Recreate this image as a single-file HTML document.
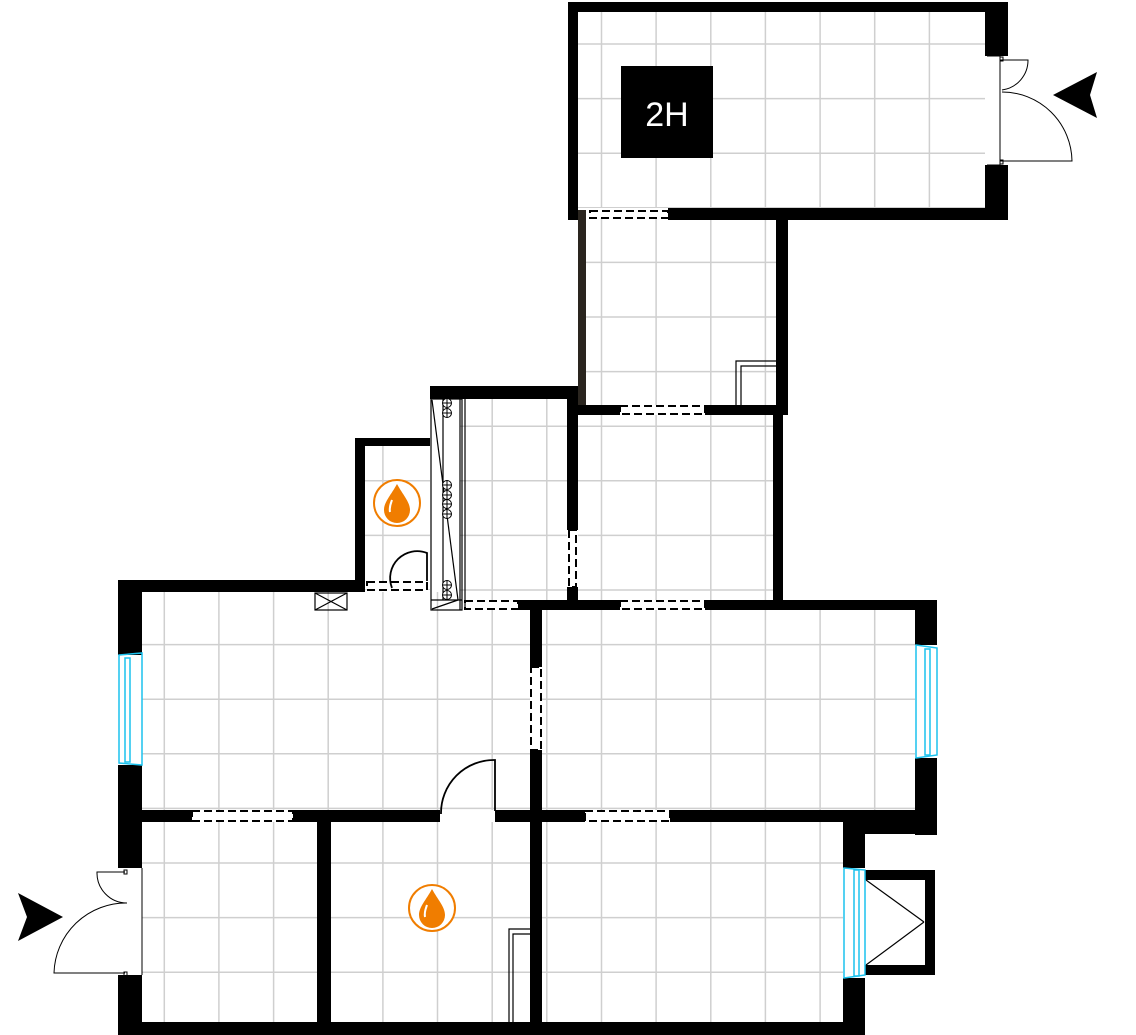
<!DOCTYPE html>
<html><head><meta charset="utf-8"><style>
html,body{margin:0;padding:0;background:#fff;}
svg{display:block;}
</style></head><body>
<svg width="1136" height="1035" viewBox="0 0 1136 1035" xmlns="http://www.w3.org/2000/svg">
<defs>
<clipPath id="rooms">
<rect x="578" y="12" width="407" height="196"/>
<rect x="586" y="218" width="190" height="187"/>
<rect x="578" y="415" width="195" height="185"/>
<rect x="460" y="398" width="107" height="202"/>
<rect x="365" y="445" width="65" height="145"/>
<rect x="142" y="592" width="388" height="218"/>
<rect x="542" y="610" width="373" height="200"/>
<rect x="142" y="822" width="175" height="200"/>
<rect x="331" y="822" width="199" height="200"/>
<rect x="542" y="822" width="301" height="200"/>
</clipPath>
<g id="pl"><circle r="4.5" fill="#fff" stroke="#000" stroke-width="1"/><line x1="-4.5" y1="0" x2="4.5" y2="0" stroke="#000" stroke-width="1"/><line x1="0" y1="-4.5" x2="0" y2="4.5" stroke="#000" stroke-width="1"/></g>
</defs>
<g clip-path="url(#rooms)" stroke="#cfcfcf" stroke-width="1.5">
<line x1="164.3" y1="0" x2="164.3" y2="1035"/><line x1="218.9" y1="0" x2="218.9" y2="1035"/><line x1="273.6" y1="0" x2="273.6" y2="1035"/><line x1="328.2" y1="0" x2="328.2" y2="1035"/><line x1="382.9" y1="0" x2="382.9" y2="1035"/><line x1="437.5" y1="0" x2="437.5" y2="1035"/><line x1="492.2" y1="0" x2="492.2" y2="1035"/><line x1="546.8" y1="0" x2="546.8" y2="1035"/><line x1="601.5" y1="0" x2="601.5" y2="1035"/><line x1="656.1" y1="0" x2="656.1" y2="1035"/><line x1="710.8" y1="0" x2="710.8" y2="1035"/><line x1="765.4" y1="0" x2="765.4" y2="1035"/><line x1="820.1" y1="0" x2="820.1" y2="1035"/><line x1="874.7" y1="0" x2="874.7" y2="1035"/><line x1="929.4" y1="0" x2="929.4" y2="1035"/>
<line x1="0" y1="44" x2="1136" y2="44"/><line x1="0" y1="98.6" x2="1136" y2="98.6"/><line x1="0" y1="153.2" x2="1136" y2="153.2"/><line x1="0" y1="207.8" x2="1136" y2="207.8"/><line x1="0" y1="262.4" x2="1136" y2="262.4"/><line x1="0" y1="317" x2="1136" y2="317"/><line x1="0" y1="371.6" x2="1136" y2="371.6"/><line x1="0" y1="426.2" x2="1136" y2="426.2"/><line x1="0" y1="480.8" x2="1136" y2="480.8"/><line x1="0" y1="535.4" x2="1136" y2="535.4"/><line x1="0" y1="590" x2="1136" y2="590"/><line x1="0" y1="644.6" x2="1136" y2="644.6"/><line x1="0" y1="699.2" x2="1136" y2="699.2"/><line x1="0" y1="753.8" x2="1136" y2="753.8"/><line x1="0" y1="808.4" x2="1136" y2="808.4"/><line x1="0" y1="863" x2="1136" y2="863"/><line x1="0" y1="917.6" x2="1136" y2="917.6"/><line x1="0" y1="972.2" x2="1136" y2="972.2"/>
</g>
<g fill="#000">
<rect x="568" y="2" width="440" height="10"/>
<rect x="568" y="2" width="10" height="218"/>
<rect x="985" y="2" width="23" height="54"/>
<rect x="985" y="165" width="23" height="53"/>
<rect x="668" y="208" width="340" height="12"/>
<rect x="578" y="210" width="8" height="195" fill="#2a251f"/>
<rect x="776" y="218" width="12" height="197"/>
<rect x="568" y="405" width="52" height="10"/>
<rect x="705" y="405" width="83" height="10"/>
<rect x="567" y="386" width="11" height="144"/>
<rect x="567" y="587" width="11" height="23"/>
<rect x="773" y="415" width="10" height="195"/>
<rect x="518" y="600" width="102" height="10"/>
<rect x="705" y="600" width="232" height="10"/>
<rect x="430" y="386" width="148" height="13"/>
<rect x="355" y="438" width="10" height="154"/>
<rect x="355" y="438" width="75" height="8"/>
<rect x="118" y="580" width="247" height="12"/>
<rect x="118" y="580" width="24" height="75"/>
<rect x="118" y="765" width="24" height="103"/>
<rect x="118" y="810" width="74" height="12"/>
<rect x="293" y="810" width="147" height="12"/>
<rect x="495" y="810" width="47" height="12"/>
<rect x="530" y="600" width="12" height="67"/>
<rect x="530" y="750" width="12" height="280"/>
<rect x="915" y="600" width="22" height="45"/>
<rect x="915" y="758" width="22" height="77"/>
<rect x="542" y="810" width="43" height="12"/>
<rect x="670" y="810" width="267" height="12"/>
<rect x="843" y="810" width="94" height="24"/>
<rect x="843" y="822" width="22" height="46"/>
<rect x="843" y="978" width="22" height="57"/>
<rect x="865" y="870" width="70" height="10"/>
<rect x="925" y="870" width="10" height="105"/>
<rect x="865" y="965" width="70" height="10"/>
<rect x="118" y="975" width="24" height="60"/>
<rect x="317" y="822" width="14" height="203"/>
<rect x="118" y="1022" width="747" height="13"/>
</g>
<g fill="#fff" stroke="#000" stroke-width="2" stroke-dasharray="8,4">
<rect x="590" y="211" width="78" height="7"/>
<rect x="620" y="406" width="85" height="8"/>
<rect x="569" y="530" width="7" height="57"/>
<rect x="465" y="601" width="53" height="8"/>
<rect x="620" y="601" width="85" height="8"/>
<rect x="192" y="811" width="101" height="10"/>
<rect x="531" y="667" width="10" height="83"/>
<rect x="585" y="811" width="85" height="10"/>
<rect x="367" y="582" width="60" height="8"/>
</g>
<g fill="none" stroke="#000" stroke-width="1.2">
<rect x="431" y="399" width="31" height="211"/>
<line x1="443" y1="399" x2="443" y2="600"/>
<line x1="460" y1="399" x2="460" y2="610"/>
<line x1="465" y1="399" x2="465" y2="610"/>
<line x1="432" y1="400" x2="458" y2="600"/>
<line x1="432" y1="609" x2="458" y2="600"/>
<line x1="431" y1="600" x2="462" y2="600"/>
</g>
<use href="#pl" x="447" y="403"/><use href="#pl" x="447" y="413"/>
<use href="#pl" x="447" y="485"/><use href="#pl" x="447" y="495"/><use href="#pl" x="447" y="504"/><use href="#pl" x="447" y="514"/>
<use href="#pl" x="447" y="585"/><use href="#pl" x="447" y="595"/>
<g fill="none" stroke="#000" stroke-width="1.2">
<path d="M736 405 V361 H776 M741 405 V366 H776"/>
<path d="M509 1022 V929 H530 M513 1022 V934 H530"/>
<rect x="315" y="593" width="32" height="17"/>
<line x1="315" y1="593" x2="347" y2="610"/><line x1="347" y1="593" x2="315" y2="610"/>
<line x1="866" y1="880" x2="924" y2="922"/><line x1="866" y1="965" x2="924" y2="922"/>
</g>
<g fill="none" stroke="#000" stroke-width="1.8">
<path d="M427 581 V553 A27 27 0 0 0 392 588"/>
<path d="M495 811 V760 A53 53 0 0 0 441 814"/>
</g>
<g fill="none" stroke="#000" stroke-width="1">
<path d="M1000 60 H1028 A30 30 0 0 1 1002 90"/>
<path d="M1002 92 A70 70 0 0 1 1072 161 H1000"/>
<path d="M125 872 H97 A30 30 0 0 0 127 903"/>
<path d="M127 903 A72 72 0 0 0 54 973 H125"/>
<rect x="1000" y="57" width="3" height="4"/><rect x="1000" y="160" width="3" height="4"/>
<rect x="124" y="870" width="3" height="4"/><rect x="124" y="972" width="3" height="4"/>
<path d="M987 56 L1000 56 L1000 165 L987 165"/>
<path d="M142 868 V975"/>
</g>
<g fill="none" stroke="#1cc2ee" stroke-width="1.5">
<path d="M119 655 L142 653 L142 765 L119 763 Z"/>
<rect x="125" y="658" width="5" height="104"/>
<path d="M916 645 L937 648 L937 755 L916 758 Z"/>
<rect x="925" y="649" width="5" height="106"/>
<path d="M844 868 L865 870 L865 975 L844 978 Z"/>
<rect x="854" y="870" width="5" height="106"/>
</g>
<path d="M1097 72 L1053 95 L1097 118 L1090 95 Z" fill="#000"/>
<path d="M18 893 L63 917 L18 941 L27 917 Z" fill="#000"/>
<rect x="621" y="66" width="92" height="92" fill="#000"/>
<text x="667" y="126" fill="#fff" font-family="Liberation Sans, sans-serif" font-size="34" text-anchor="middle">2H</text>
<g>
<circle cx="397" cy="503" r="23" fill="#fff" stroke="#f07d00" stroke-width="2"/>
<path d="M397 484 C391 495 384 502 384 510 A13 13 0 0 0 410 510 C410 502 403 495 397 484 Z" fill="#f07d00"/>
<path d="M390 512 C389 507 391 503 392 500" stroke="#fff" stroke-width="2" fill="none"/>
<circle cx="432" cy="908" r="23" fill="#fff" stroke="#f07d00" stroke-width="2"/>
<path d="M432 889 C426 900 419 907 419 915 A13 13 0 0 0 445 915 C445 907 438 900 432 889 Z" fill="#f07d00"/>
<path d="M425 917 C424 912 426 908 427 905" stroke="#fff" stroke-width="2" fill="none"/>
</g>
</svg>
</body></html>
